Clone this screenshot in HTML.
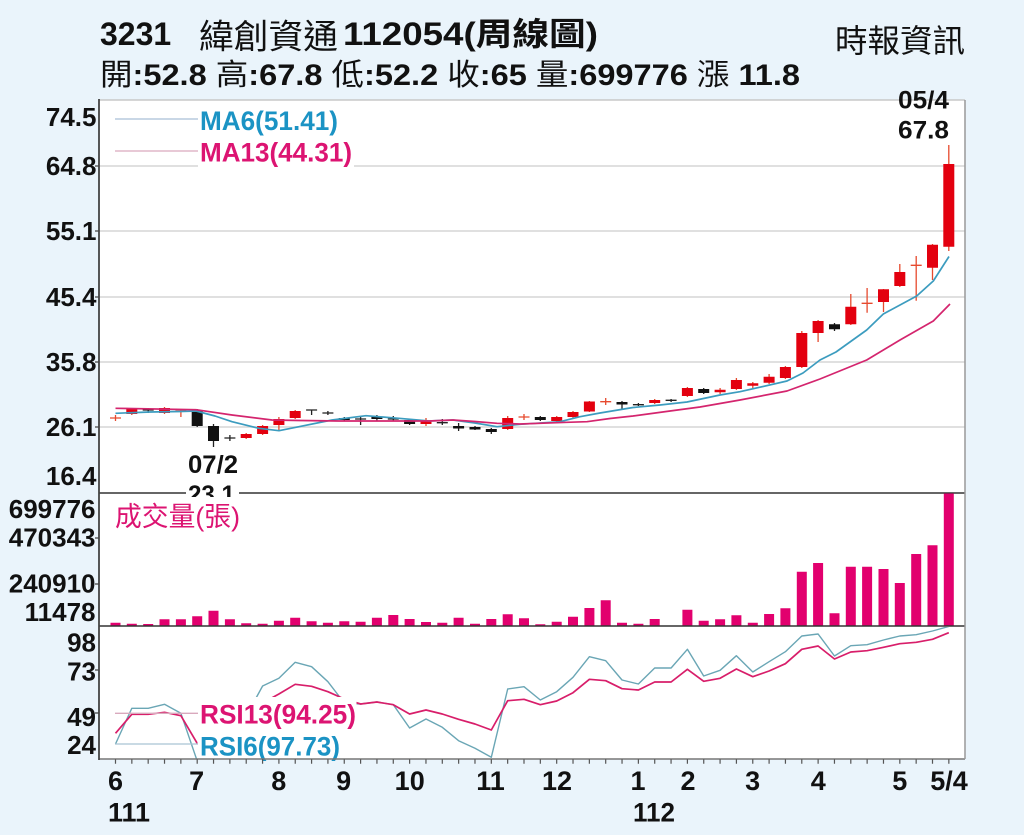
<!DOCTYPE html>
<html><head><meta charset="utf-8">
<style>
html,body{margin:0;padding:0;background:#eaf4fb;}
svg{display:block;}
text{font-family:"Liberation Sans","Noto Sans CJK TC",sans-serif;}
</style></head>
<body>
<svg width="1024" height="835" viewBox="0 0 1024 835" xmlns="http://www.w3.org/2000/svg">
<defs>
<clipPath id="cp"><rect x="99" y="100" width="866" height="393"/></clipPath>
<clipPath id="cr"><rect x="99" y="627" width="866" height="132"/></clipPath>
<clipPath id="c231"><rect x="180" y="470" width="70" height="27"/></clipPath>
</defs>
<rect width="1024" height="835" fill="#eaf4fb"/>

<text x="100" y="45" font-size="32" font-weight="bold" fill="#111">3231</text>
<text x="199" y="48.5" font-size="34" fill="#111" textLength="139" lengthAdjust="spacingAndGlyphs">緯創資通</text>
<text x="343" y="45" font-size="32" font-weight="bold" fill="#111" textLength="255" lengthAdjust="spacingAndGlyphs">112054(周線圖)</text>
<text x="100" y="85" font-size="30" fill="#111" textLength="700" lengthAdjust="spacingAndGlyphs"><tspan>開</tspan><tspan font-weight="bold">:52.8 </tspan><tspan>高</tspan><tspan font-weight="bold">:67.8 </tspan><tspan>低</tspan><tspan font-weight="bold">:52.2 </tspan><tspan>收</tspan><tspan font-weight="bold">:65 </tspan><tspan>量</tspan><tspan font-weight="bold">:699776 </tspan><tspan>漲</tspan><tspan font-weight="bold"> 11.8</tspan></text>
<text x="835" y="52" font-size="32" fill="#111" textLength="130" lengthAdjust="spacingAndGlyphs">時報資訊</text>

<rect x="99" y="100" width="866" height="659" fill="#fff"/>
<line x1="99" y1="100" x2="965" y2="100" stroke="#c8c8c8" stroke-width="1.5"/>
<path d="M99 166H965M99 231H965M99 297H965M99 362H965M99 427H965" stroke="#d6d6d6" stroke-width="1.5" fill="none"/>

<rect x="198" y="104" width="156" height="64" fill="#fff"/>
<line x1="115" y1="119" x2="198" y2="119" stroke="#a9bfd6" stroke-width="1.3"/>
<line x1="115" y1="151" x2="198" y2="151" stroke="#d9a9bd" stroke-width="1.3"/>
<text x="200" y="130" font-size="27" font-weight="bold" fill="#1b93c4" textLength="138" lengthAdjust="spacingAndGlyphs">MA6(51.41)</text>
<text x="200" y="161.5" font-size="27" font-weight="bold" fill="#dc1472" textLength="152" lengthAdjust="spacingAndGlyphs">MA13(44.31)</text>

<g clip-path="url(#cp)">
<path fill="none" stroke="#e64a2e" stroke-width="1.3" d="M115.5 415V421M110 418H121M131.8 408V415M164.5 407V414M180.9 409V417M175.4 410H186.4M246.2 433V439M262.6 425V435M278.9 417V430M295.2 410V419M426 418V426M507.7 416V430M524 414V420M518.5 417H529.5M556.7 416V422M573 411V418M589.4 401V412M605.7 398V405M600.2 401.7H611.2M654.7 399V404M687.4 387V397M720.1 388V394M736.4 378V390M752.8 382V388M769.1 374V384M785.4 366V379M801.8 331V368M818.1 320V342M850.8 294V325M867.1 288V312.7M861.6 303.3H872.6M883.5 289V312M899.8 264V287M916.2 256V300.7M910.7 265.3H921.7M932.5 244V280M948.8 145V251"/>
<path fill="#e3000f" d="M126.3 409h11v5h-11zM159 408h11v5h-11zM240.7 434h11v4h-11zM257.1 426h11v8h-11zM273.4 419h11v6h-11zM289.7 411h11v7h-11zM420.5 421.5h11v2.5h-11zM502.2 418h11v11h-11zM551.2 417h11v4h-11zM567.5 412h11v5h-11zM583.9 401.5h11v10h-11zM649.2 400h11v3h-11zM681.9 388h11v8h-11zM714.6 389.7h11v2.6h-11zM730.9 380h11v9h-11zM747.3 383.3h11v2.4h-11zM763.6 376.7h11v6h-11zM779.9 367h11v11h-11zM796.3 333h11v34h-11zM812.6 321h11v12h-11zM845.3 306.7h11v17.6h-11zM878 289.3h11v12.7h-11zM894.3 272h11v14h-11zM927 244.7h11v23h-11zM943.3 164h11v82.7h-11z"/>
<path fill="none" stroke="#222" stroke-width="1.3" d="M148.2 408V413M142.7 410H153.7M197.2 409V427M213.5 424V447M229.9 435V441M224.4 438H235.4M311.6 410V415M306.1 410H317.1M327.9 411V415M322.4 413H333.4M344.3 417V421M360.6 417V425M355.1 419H366.1M376.9 415V421M393.3 416V421M387.8 419H398.8M409.6 419V425M442.3 419V425M436.8 422.7H447.8M458.6 423V431M475 426V430M491.3 428V434M540.3 416V421M622 401V409M638.4 403V406M632.9 404.7H643.9M671.1 399V402M665.6 400.3H676.6M703.7 388V394M834.5 323V331"/>
<path fill="#111" d="M191.7 410h11v16h-11zM208 426h11v15h-11zM338.8 418h11v2h-11zM371.4 417h11v2h-11zM404.1 420h11v4h-11zM453.1 426h11v2.5h-11zM469.5 427h11v2.5h-11zM485.8 429h11v3h-11zM534.8 417h11v3h-11zM616.5 402h11v2.5h-11zM698.2 389h11v4h-11zM829 324.3h11v5h-11z"/>
<polyline fill="none" stroke="#3c9cbf" stroke-width="1.7" stroke-linejoin="round" points="115.5,413.3 150,412 180,411.5 196,411 215,416 232,421.7 259,428.3 279,430.7 299,426.7 332,420 366,415.7 399,418.3 429,421 453,420 475,423 497,426.7 520,424.3 560,421.7 580,416.7 600,413 633,407.5 660,405 687,402 720,395 740,391.7 787,381 803,373 820,360 836,352 866.7,330 883.3,314 916.7,296 933.3,281 949,256.5"/>
<polyline fill="none" stroke="#d4256e" stroke-width="1.7" stroke-linejoin="round" points="115.5,408.3 196,409.7 232,415 272,420 300,420.5 339,421 399,421 429,421 453,420 475,421.5 497,423.3 520,424 567,422.3 587,421.7 610,418.5 633,416 670,411 700,407 740,400 787,391 820,379 866.7,360 900,340 933.3,321 950,304"/>
</g>

<text x="898" y="108.3" font-size="25" font-weight="bold" fill="#111" textLength="51" lengthAdjust="spacingAndGlyphs">05/4</text>
<text x="898" y="138.3" font-size="25" font-weight="bold" fill="#111" textLength="51" lengthAdjust="spacingAndGlyphs">67.8</text>
<text x="188" y="473" font-size="25" font-weight="bold" fill="#111" textLength="50" lengthAdjust="spacingAndGlyphs">07/2</text>

<line x1="99" y1="493" x2="965" y2="493" stroke="#333" stroke-width="1.5"/>
<rect x="186" y="480" width="53" height="17" fill="#fff"/>
<g clip-path="url(#c231)"><text x="188" y="503" font-size="25" font-weight="bold" fill="#111" textLength="47" lengthAdjust="spacingAndGlyphs">23.1</text></g>

<text x="115" y="526" font-size="27" fill="#dc1472" textLength="125" lengthAdjust="spacingAndGlyphs">成交量(張)</text>
<path fill="#e2006e" d="M110.5 622.7h10V626h-10zM126.8 623.7h10V626h-10zM143.2 624h10V626h-10zM159.5 619.3h10V626h-10zM175.9 619.3h10V626h-10zM192.2 616.3h10V626h-10zM208.5 610.7h10V626h-10zM224.9 619.3h10V626h-10zM241.2 623.3h10V626h-10zM257.6 623.7h10V626h-10zM273.9 620.7h10V626h-10zM290.2 617.7h10V626h-10zM306.6 621.3h10V626h-10zM322.9 622.7h10V626h-10zM339.3 621.3h10V626h-10zM355.6 621.7h10V626h-10zM371.9 617.7h10V626h-10zM388.3 615h10V626h-10zM404.6 619h10V626h-10zM421 622h10V626h-10zM437.3 622.7h10V626h-10zM453.6 617.7h10V626h-10zM470 623.7h10V626h-10zM486.3 619h10V626h-10zM502.7 614.3h10V626h-10zM519 618.3h10V626h-10zM535.3 624.3h10V626h-10zM551.7 621.7h10V626h-10zM568 616.7h10V626h-10zM584.4 608h10V626h-10zM600.7 600.3h10V626h-10zM617 622.7h10V626h-10zM633.4 623.7h10V626h-10zM649.7 619h10V626h-10zM682.4 609.7h10V626h-10zM698.7 620.7h10V626h-10zM715.1 619.3h10V626h-10zM731.4 615.3h10V626h-10zM747.8 622.7h10V626h-10zM764.1 614h10V626h-10zM780.4 608.3h10V626h-10zM796.8 571.7h10V626h-10zM813.1 563h10V626h-10zM829.5 613.3h10V626h-10zM845.8 566.7h10V626h-10zM862.1 566.7h10V626h-10zM878.5 569h10V626h-10zM894.8 583h10V626h-10zM911.2 554h10V626h-10zM927.5 545.3h10V626h-10zM943.8 493.5h10V626h-10z"/>
<line x1="99" y1="626" x2="965" y2="626" stroke="#333" stroke-width="1.5"/>

<g clip-path="url(#cr)">
<polyline fill="none" stroke="#6aa6b5" stroke-width="1.4" stroke-linejoin="round" points="115.5,744 131.8,708.3 148.2,708.3 164.5,704.3 180.9,713.3 197.2,761 213.5,775 229.9,775 246.2,716 262.6,686 278.9,678.3 295.2,662.3 311.6,666.7 327.9,681.7 344.3,703 360.6,704 376.9,702 393.3,704.7 409.6,728 426,719 442.3,727.3 458.6,740.7 475,748.3 491.3,757.3 507.7,689 524,686.7 540.3,700 556.7,691.7 573,677.3 589.4,656.7 605.7,660.7 622,680 638.4,684 654.7,668 671.1,668 687.4,649.3 703.7,676 720.1,670.3 736.4,655.7 752.8,672 769.1,661.7 785.4,651.7 801.8,636 818.1,634 834.5,656 850.8,645.7 867.1,644.7 883.5,640 899.8,636 916.2,634.7 932.5,631 948.8,626.5"/>
<polyline fill="none" stroke="#d81e6a" stroke-width="1.7" stroke-linejoin="round" points="115.5,733.3 131.8,714.3 148.2,714.3 164.5,712.3 180.9,715.7 197.2,743.3 213.5,760 229.9,760 246.2,730 262.6,703 278.9,694 295.2,684.3 311.6,686.3 327.9,691.7 344.3,699 360.6,704 376.9,702 393.3,704.7 409.6,714 426,710 442.3,714 458.6,719.3 475,724 491.3,730 507.7,700.7 524,699.3 540.3,704.7 556.7,701 573,692.7 589.4,679.3 605.7,680.7 622,688.7 638.4,690 654.7,682 671.1,682 687.4,669.3 703.7,681.3 720.1,678.3 736.4,669 752.8,676.7 769.1,671 785.4,663.7 801.8,649.3 818.1,646 834.5,659 850.8,652 867.1,650.7 883.5,647.3 899.8,643.7 916.2,642.3 932.5,639.3 948.8,632.7"/>
</g>
<rect x="197.5" y="697" width="159" height="61.5" fill="#fff"/>
<line x1="115" y1="713.3" x2="198" y2="713.3" stroke="#d9a9bd" stroke-width="1.3"/>
<line x1="115" y1="744" x2="198" y2="744" stroke="#a9c4d4" stroke-width="1.3"/>
<text x="200" y="723.3" font-size="27" font-weight="bold" fill="#dc1472" textLength="156" lengthAdjust="spacingAndGlyphs">RSI13(94.25)</text>
<text x="200" y="755.5" font-size="27" font-weight="bold" fill="#1b93c4" textLength="140" lengthAdjust="spacingAndGlyphs">RSI6(97.73)</text>

<line x1="99" y1="759" x2="965" y2="759" stroke="#777" stroke-width="1.5"/>
<line x1="965" y1="100" x2="965" y2="759" stroke="#999" stroke-width="1.5"/>
<line x1="99" y1="99" x2="99" y2="760" stroke="#444" stroke-width="1.8"/>
<path d="M95 166H99M95 231H99M95 297H99M95 362H99M95 427H99M95 538H99M95 584H99M95 670H99M95 713H99" stroke="#444" stroke-width="1.3" fill="none"/>

<g font-size="26" font-weight="bold" fill="#111" text-anchor="end">
<text x="96.5" y="126">74.5</text>
<text x="96.5" y="175">64.8</text>
<text x="96.5" y="240">55.1</text>
<text x="96.5" y="306">45.4</text>
<text x="96.5" y="371">35.8</text>
<text x="96.5" y="436">26.1</text>
<text x="96.5" y="485">16.4</text>
<text x="95.5" y="518">699776</text>
<text x="95.5" y="546.5">470343</text>
<text x="95.5" y="592.5">240910</text>
<text x="95.5" y="621">11478</text>
<text x="96" y="651.5">98</text>
<text x="96" y="680.5">73</text>
<text x="96" y="726">49</text>
<text x="96" y="754">24</text>
</g>

<line x1="114.9" y1="761.5" x2="950" y2="761.5" stroke="#555" stroke-width="4.5" stroke-dasharray="1.2 15.14"/>

<g font-size="27" font-weight="bold" fill="#111" text-anchor="middle">
<text x="115.5" y="790">6</text>
<text x="196.7" y="790">7</text>
<text x="278.8" y="790">8</text>
<text x="343.7" y="790">9</text>
<text x="409.7" y="790">10</text>
<text x="490.5" y="790">11</text>
<text x="557" y="790">12</text>
<text x="638" y="790">1</text>
<text x="688" y="790">2</text>
<text x="752.7" y="790">3</text>
<text x="818.3" y="790">4</text>
<text x="899.8" y="790">5</text>
<text x="949" y="790">5/4</text>
</g>
<text x="108" y="821.5" font-size="27" font-weight="bold" fill="#111" textLength="42" lengthAdjust="spacingAndGlyphs">111</text>
<text x="633" y="821.5" font-size="27" font-weight="bold" fill="#111" textLength="42" lengthAdjust="spacingAndGlyphs">112</text>
</svg>
</body></html>
